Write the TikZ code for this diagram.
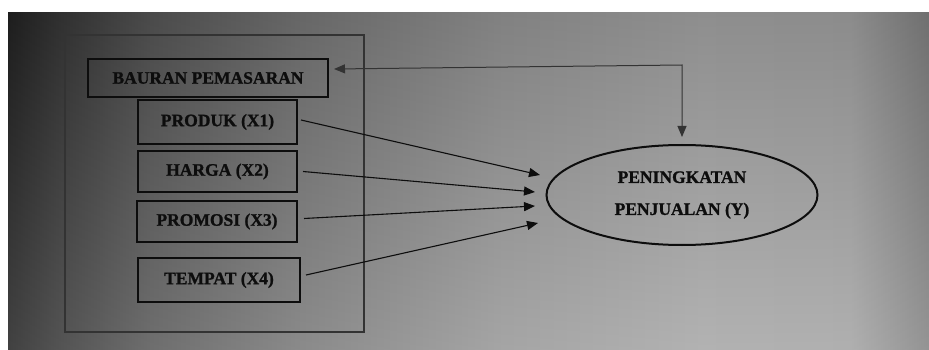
\documentclass[tikz,border=0pt]{standalone}
\usepackage{fontspec}
\setmainfont{Liberation Serif}[BoldFeatures={FakeBold=1.2}]
\usetikzlibrary{arrows.meta,shapes.geometric}

% grey tones of the sheet, dark on the left, lighter towards the right
\definecolor{bgA}{gray}{0.135}
\definecolor{bgB}{gray}{0.22}
\definecolor{bgC}{gray}{0.34}
\definecolor{bgD}{gray}{0.47}
\definecolor{bgE}{gray}{0.59}
\definecolor{bgF}{gray}{0.65}
\definecolor{bgG}{gray}{0.64}
\definecolor{bgH}{gray}{0.51}
\definecolor{ink}{gray}{0.05}
\definecolor{frameink}{gray}{0.2}

\pgfdeclarehorizontalshading{sheet}{100bp}{%
  color(0bp)=(bgA); color(25bp)=(bgA); color(27.8bp)=(bgB);
  color(32.7bp)=(bgC); color(40.9bp)=(bgD); color(51.7bp)=(bgE);
  color(62.6bp)=(bgF); color(70.7bp)=(bgG); color(75bp)=(bgH);
  color(100bp)=(bgH)}

\newcommand\labelfont{\fontsize{17.5}{20}\selectfont\bfseries}

\begin{document}
\begin{tikzpicture}[x=1pt,y=-1pt,
  box/.style={draw=ink,line width=2pt,inner sep=0pt,font=\labelfont,text=ink},
  outerframe/.style={draw=frameink,line width=1.2pt,inner sep=0pt},
  target/.style={ellipse,draw=ink,line width=2pt,inner sep=0pt,
    font=\labelfont,text=ink,align=center},
  conn/.style={draw=ink,line width=1.1pt,-{Triangle[length=11pt,width=9pt]}},
  feedback/.style={draw=black!80,line width=1pt,
    {Triangle[length=11pt,width=9pt]}-{Triangle[length=11pt,width=9pt]}}]

\useasboundingbox (0,0) rectangle (929,350);
\fill[white] (0,0) rectangle (929,350);
\shade[shading=sheet] (8,13) rectangle (929,350);
\shade[top color=black,bottom color=white,fill opacity=0.14] (8,13) rectangle (929,350);

% grouping frame
\node[outerframe,minimum width=299,minimum height=297] (frame) at (214.5,183.5) {};

% variables
\node[box,minimum width=240,minimum height=38] (mix) at (208,78) {BAURAN PEMASARAN};
\node[box,minimum width=159,minimum height=44] (x1) at (217.5,122) {PRODUK (X1)};
\node[box,minimum width=159,minimum height=41] (x2) at (217.5,171.5) {HARGA (X2)};
\node[box,minimum width=160,minimum height=41] (x3) at (217,221.5) {PROMOSI (X3)};
\node[box,minimum width=162,minimum height=44] (x4) at (219,280) {TEMPAT (X4)};

% outcome
\node[target,minimum width=271,minimum height=100] (y) at (682,195)
  {PENINGKATAN\\[12pt]PENJUALAN (Y)};

% arrow ends in front of the ellipse
\coordinate (t1) at (540,175);
\coordinate (t2) at (535,192);
\coordinate (t3) at (535,206);
\coordinate (t4) at (538,223);
\coordinate (corner) at (682,65);

\draw[conn] ([shift={(3,-2)}]x1.east) -- (t1);
\draw[conn] ([shift={(5,0)}]x2.east) -- (t2);
\draw[conn] ([shift={(6,-3)}]x3.east) -- (t3);
\draw[conn] ([shift={(5,-5)}]x4.east) -- (t4);

\draw[feedback] ([shift={(5,-9)}]mix.east) -- (corner) -- ([shift={(0,-7)}]y.north);
\end{tikzpicture}
\end{document}
